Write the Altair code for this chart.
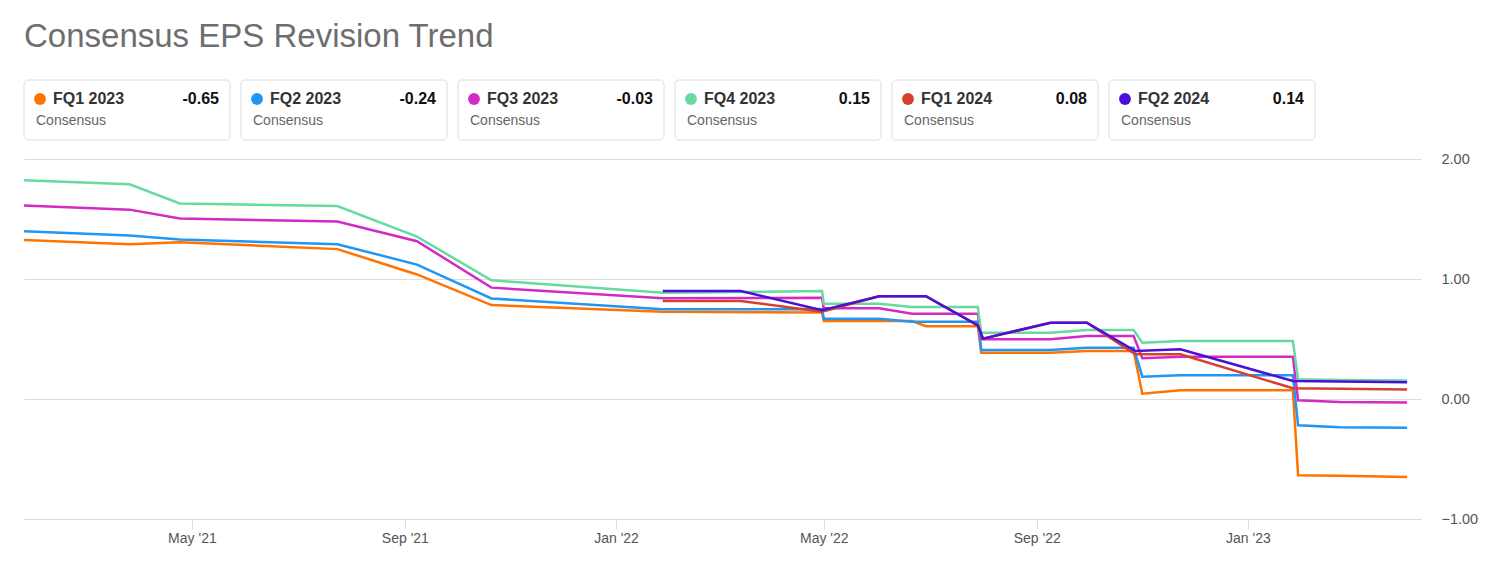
import altair as alt
import pandas as pd

series = ["FQ1 2023", "FQ2 2023", "FQ3 2023", "FQ4 2023", "FQ1 2024", "FQ2 2024"]
colors = ["#ff7300", "#2196f3", "#d42ac5", "#68d9a0", "#d6402f", "#4a10d8"]
latest = ["-0.65", "-0.24", "-0.03", "0.15", "0.08", "0.14"]

dates_2023 = ["2021-01-24", "2021-03-26", "2021-04-24", "2021-07-24", "2021-09-08",
              "2021-10-21", "2022-01-28", "2022-04-30", "2022-05-01", "2022-06-02",
              "2022-06-21", "2022-06-29", "2022-07-29", "2022-07-31", "2022-09-09",
              "2022-09-30", "2022-10-27", "2022-11-01", "2022-11-23", "2023-01-27",
              "2023-01-30", "2023-02-23", "2023-04-03"]
fq1_2023 = [1.326, 1.29, 1.307, 1.249, 1.038, 0.783, 0.728, 0.72, 0.65, 0.65, 0.65, 0.606,
            0.606, 0.386, 0.386, 0.40, 0.40, 0.044, 0.072, 0.072, -0.636, -0.64, -0.65]
fq2_2023 = [1.397, 1.362, 1.329, 1.29, 1.12, 0.838, 0.747, 0.75, 0.669, 0.669, 0.644, 0.644,
            0.644, 0.408, 0.408, 0.428, 0.428, 0.186, 0.197, 0.197, -0.219, -0.235, -0.24]
fq3_2023 = [1.613, 1.578, 1.504, 1.479, 1.315, 0.928, 0.839, 0.844, 0.756, 0.756, 0.711, 0.711,
            0.711, 0.497, 0.497, 0.525, 0.525, 0.339, 0.353, 0.353, -0.011, -0.025, -0.03]
fq4_2023 = [1.822, 1.789, 1.63, 1.608, 1.353, 0.989, 0.885, 0.90, 0.794, 0.794, 0.767, 0.767,
            0.767, 0.553, 0.553, 0.575, 0.575, 0.469, 0.483, 0.483, 0.164, 0.158, 0.155]

dates_2024 = ["2022-01-28", "2022-03-14", "2022-04-30", "2022-06-02", "2022-06-29",
              "2022-07-29", "2022-08-01", "2022-09-09", "2022-09-30", "2022-10-28",
              "2022-11-23", "2023-01-27", "2023-02-23", "2023-04-03"]
fq1_2024 = [0.817, 0.817, 0.728, 0.856, 0.856, 0.614, 0.503, 0.636, 0.636, 0.372, 0.372,
            0.089, 0.085, 0.08]
fq2_2024 = [0.90, 0.90, 0.739, 0.856, 0.856, 0.614, 0.503, 0.636, 0.636, 0.40, 0.414,
            0.15, 0.145, 0.14]

tick_months = [(2021, 5), (2021, 9), (2022, 1), (2022, 5), (2022, 9), (2023, 1)]

font = "Liberation Sans"

values_by_series = [
    (dates_2023, fq1_2023), (dates_2023, fq2_2023), (dates_2023, fq3_2023),
    (dates_2023, fq4_2023), (dates_2024, fq1_2024), (dates_2024, fq2_2024),
]
rows = []
for name, (ds, vs) in zip(series, values_by_series):
    for d, v in zip(ds, vs):
        rows.append({"series": name, "date": d, "eps": v})
df = pd.DataFrame(rows)

color_scale = alt.Scale(domain=series, range=colors)

x_enc = alt.X(
    "date:T",
    scale=alt.Scale(domain=[alt.DateTime(year=2021, month=1, date=24),
                            alt.DateTime(year=2023, month=4, date=11)]),
    axis=alt.Axis(
        values=[alt.DateTime(year=y, month=m, date=1) for y, m in tick_months],
        format="%b '%y", title=None, grid=False, tickColor="#dddddd", tickSize=10,
        domainColor="#dddddd", labelFontSize=14, labelColor="#555555", labelPadding=2,
        labelFont=font,
    ),
)
y_enc = alt.Y(
    "eps:Q",
    scale=alt.Scale(domain=[-1, 2], nice=False, zero=False),
    axis=alt.Axis(
        orient="right", values=[-1, 0, 1, 2], format=".2f", title=None, ticks=False,
        domain=False, gridColor="#dddddd", labelFontSize=14.5, labelColor="#555555",
        labelPadding=20, labelFont=font,
    ),
)

layers = []
for name in series:
    layers.append(
        alt.Chart(df).transform_filter(alt.datum.series == name)
        .mark_line(strokeWidth=2.5)
        .encode(x=x_enc, y=y_enc,
                color=alt.Color("series:N", scale=color_scale, legend=None))
    )
main = alt.layer(*layers).properties(width=1397, height=360)

leg_df = pd.DataFrame({"series": series, "latest": latest})
x_band = alt.Scale(domain=series, paddingInner=11 / 217, paddingOuter=0)

box = alt.Chart(leg_df).mark_rect(
    cornerRadius=4, fill="white", stroke="#dcdcdc", strokeWidth=1
).encode(
    x=alt.X("series:N", scale=x_band, axis=None, sort=series),
    y=alt.value(0), y2=alt.value(60),
)
dot = alt.Chart(leg_df).mark_circle(size=140, opacity=1).encode(
    x=alt.X("series:N", scale=x_band, axis=None, sort=series, bandPosition=16 / 206),
    y=alt.value(19),
    color=alt.Color("series:N", scale=color_scale, legend=None),
)
label = alt.Chart(leg_df).mark_text(
    align="left", baseline="middle", dx=29, fontSize=16, fontWeight="bold",
    color="#333333", font=font,
).encode(
    x=alt.X("series:N", scale=x_band, axis=None, sort=series, bandPosition=0),
    y=alt.value(19), text="series:N",
)
val = alt.Chart(leg_df).mark_text(
    align="right", baseline="middle", dx=-11, fontSize=16, fontWeight="bold",
    color="#111111", font=font,
).encode(
    x=alt.X("series:N", scale=x_band, axis=None, sort=series, bandPosition=1),
    y=alt.value(19), text="latest:N",
)
sub = alt.Chart(leg_df).mark_text(
    align="left", baseline="middle", dx=12, fontSize=14, color="#666666", font=font,
    text="Consensus",
).encode(
    x=alt.X("series:N", scale=x_band, axis=None, sort=series, bandPosition=0),
    y=alt.value(41),
)
legend = alt.layer(box, dot, label, val, sub).properties(width=1291, height=60)

chart = alt.vconcat(legend, main, spacing=10).properties(
    title=alt.TitleParams(
        "Consensus EPS Revision Trend", anchor="start", fontSize=33, font=font,
        fontWeight="normal", color="#6e6e6e", offset=26, dx=5,
    ),
    padding={"left": 11, "top": 12, "right": 5, "bottom": 5},
).configure_view(stroke=None)

chart.save("out.html", embed_options={"renderer": "svg", "actions": False})
